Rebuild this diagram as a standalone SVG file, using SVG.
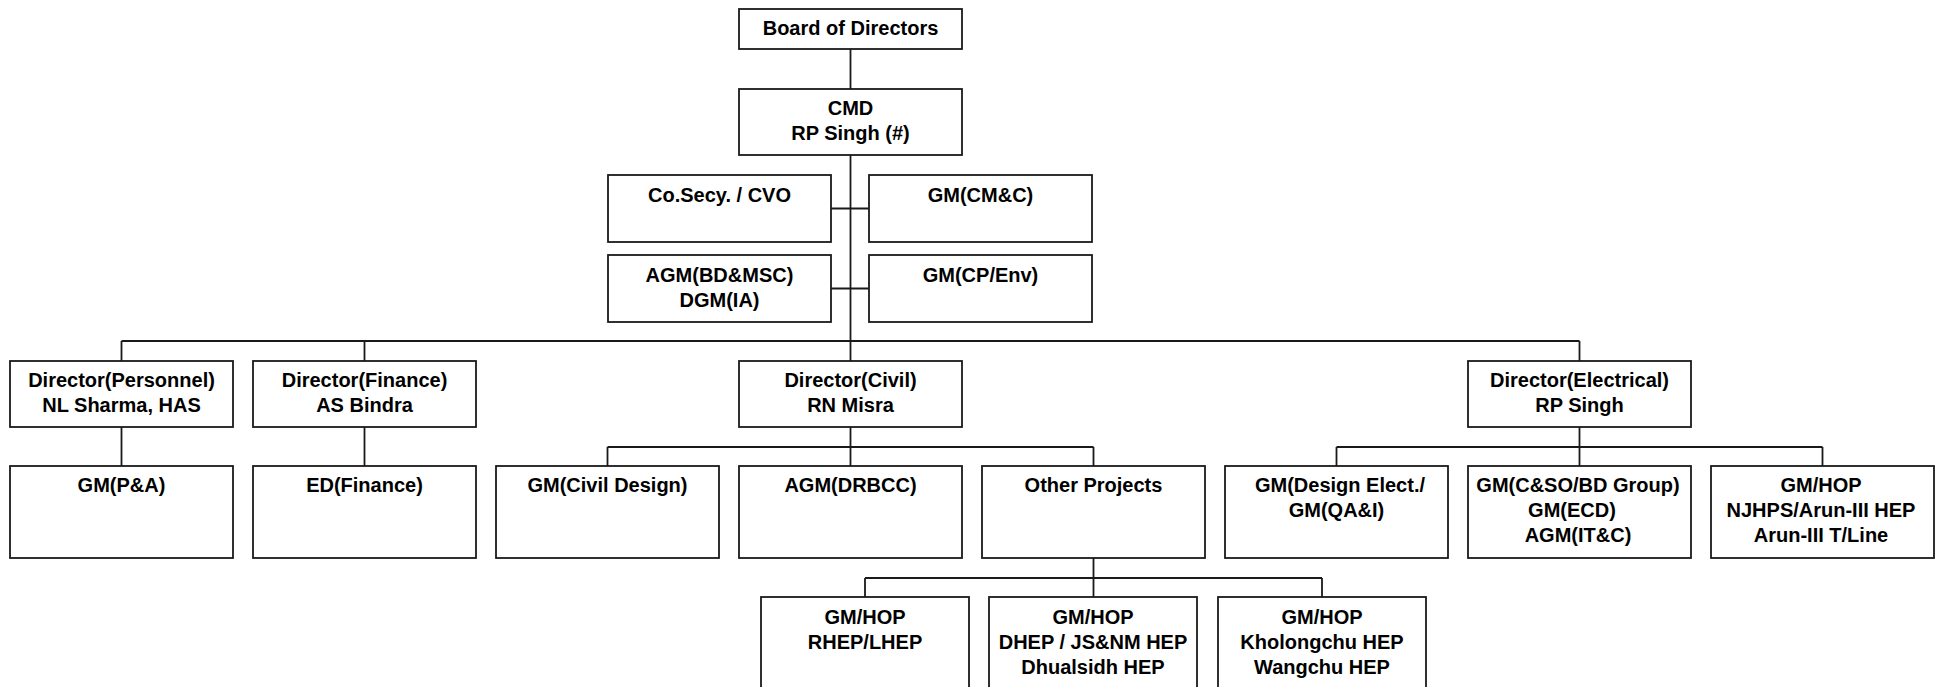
<svg xmlns="http://www.w3.org/2000/svg" width="1944" height="687" viewBox="0 0 1944 687">
<style>
.b{fill:#fff;stroke:#1a1a1a;stroke-width:1.8}
.t{font-family:"Liberation Sans",Arial,sans-serif;font-weight:bold;font-size:20px;fill:#000;text-anchor:middle}
.c{fill:none;stroke:#1a1a1a;stroke-width:1.8}
</style>
<rect width="1944" height="687" fill="#fff"/>
<g id="connectors" class="c">
<path d="M850.5 49V361M831 208.5H869M831 288.5H869"/>
<path d="M121.5 341H1579.5M121.5 341V361M364.5 341V361M1579.5 341V361"/>
<path d="M121.5 427V466M364.5 427V466"/>
<path d="M850.5 427V466M607.5 447H1093.5M607.5 447V466M1093.5 447V466"/>
<path d="M1579.5 427V466M1336.5 447H1822.5M1336.5 447V466M1822.5 447V466"/>
<path d="M1093.5 558V597M865 578H1322M865 578V597M1322 578V597"/>
</g>
<g id="board"><rect class="b" x="739" y="9" width="223" height="40"/><text class="t" x="850.5" y="35">Board of Directors</text></g>
<g id="cmd"><rect class="b" x="739" y="89" width="223" height="66"/><text class="t" x="850.5" y="115">CMD</text><text class="t" x="850.5" y="140">RP Singh (#)</text></g>
<g id="cosecy"><rect class="b" x="608" y="175" width="223" height="67"/><text class="t" x="719.5" y="202">Co.Secy. / CVO</text></g>
<g id="gmcmc"><rect class="b" x="869" y="175" width="223" height="67"/><text class="t" x="980.5" y="202">GM(CM&amp;C)</text></g>
<g id="agmbd"><rect class="b" x="608" y="255" width="223" height="67"/><text class="t" x="719.5" y="282">AGM(BD&amp;MSC)</text><text class="t" x="719.5" y="307">DGM(IA)</text></g>
<g id="gmcp"><rect class="b" x="869" y="255" width="223" height="67"/><text class="t" x="980.5" y="282">GM(CP/Env)</text></g>
<g id="dirpers"><rect class="b" x="10" y="361" width="223" height="66"/><text class="t" x="121.5" y="387">Director(Personnel)</text><text class="t" x="121.5" y="412">NL Sharma, HAS</text></g>
<g id="dirfin"><rect class="b" x="253" y="361" width="223" height="66"/><text class="t" x="364.5" y="387">Director(Finance)</text><text class="t" x="364.5" y="412">AS Bindra</text></g>
<g id="dircivil"><rect class="b" x="739" y="361" width="223" height="66"/><text class="t" x="850.5" y="387">Director(Civil)</text><text class="t" x="850.5" y="412">RN Misra</text></g>
<g id="direlec"><rect class="b" x="1468" y="361" width="223" height="66"/><text class="t" x="1579.5" y="387">Director(Electrical)</text><text class="t" x="1579.5" y="412">RP Singh</text></g>
<g id="gmpa"><rect class="b" x="10" y="466" width="223" height="92"/><text class="t" x="121.5" y="492">GM(P&amp;A)</text></g>
<g id="edfin"><rect class="b" x="253" y="466" width="223" height="92"/><text class="t" x="364.5" y="492">ED(Finance)</text></g>
<g id="gmcivdes"><rect class="b" x="496" y="466" width="223" height="92"/><text class="t" x="607.5" y="492">GM(Civil Design)</text></g>
<g id="agmdrbcc"><rect class="b" x="739" y="466" width="223" height="92"/><text class="t" x="850.5" y="492">AGM(DRBCC)</text></g>
<g id="otherproj"><rect class="b" x="982" y="466" width="223" height="92"/><text class="t" x="1093.5" y="492">Other Projects</text></g>
<g id="gmdesel"><rect class="b" x="1225" y="466" width="223" height="92"/><text class="t" x="1340" y="492">GM(Design Elect./</text><text class="t" x="1336.5" y="517">GM(QA&amp;I)</text></g>
<g id="gmcso"><rect class="b" x="1468" y="466" width="223" height="92"/><text class="t" x="1578" y="492">GM(C&amp;SO/BD Group)</text><text class="t" x="1572" y="517">GM(ECD)</text><text class="t" x="1578" y="542">AGM(IT&amp;C)</text></g>
<g id="gmhopnj"><rect class="b" x="1711" y="466" width="223" height="92"/><text class="t" x="1821" y="492">GM/HOP</text><text class="t" x="1821" y="517">NJHPS/Arun-III HEP</text><text class="t" x="1821" y="542">Arun-III T/Line</text></g>
<g id="gmhoprh"><rect class="b" x="761" y="597" width="208" height="96"/><text class="t" x="865" y="624">GM/HOP</text><text class="t" x="865" y="649">RHEP/LHEP</text></g>
<g id="gmhopdh"><rect class="b" x="989" y="597" width="208" height="96"/><text class="t" x="1093" y="624">GM/HOP</text><text class="t" x="1093" y="649">DHEP / JS&amp;NM HEP</text><text class="t" x="1093" y="674">Dhualsidh HEP</text></g>
<g id="gmhopkh"><rect class="b" x="1218" y="597" width="208" height="96"/><text class="t" x="1322" y="624">GM/HOP</text><text class="t" x="1322" y="649">Kholongchu HEP</text><text class="t" x="1322" y="674">Wangchu HEP</text></g>
</svg>
